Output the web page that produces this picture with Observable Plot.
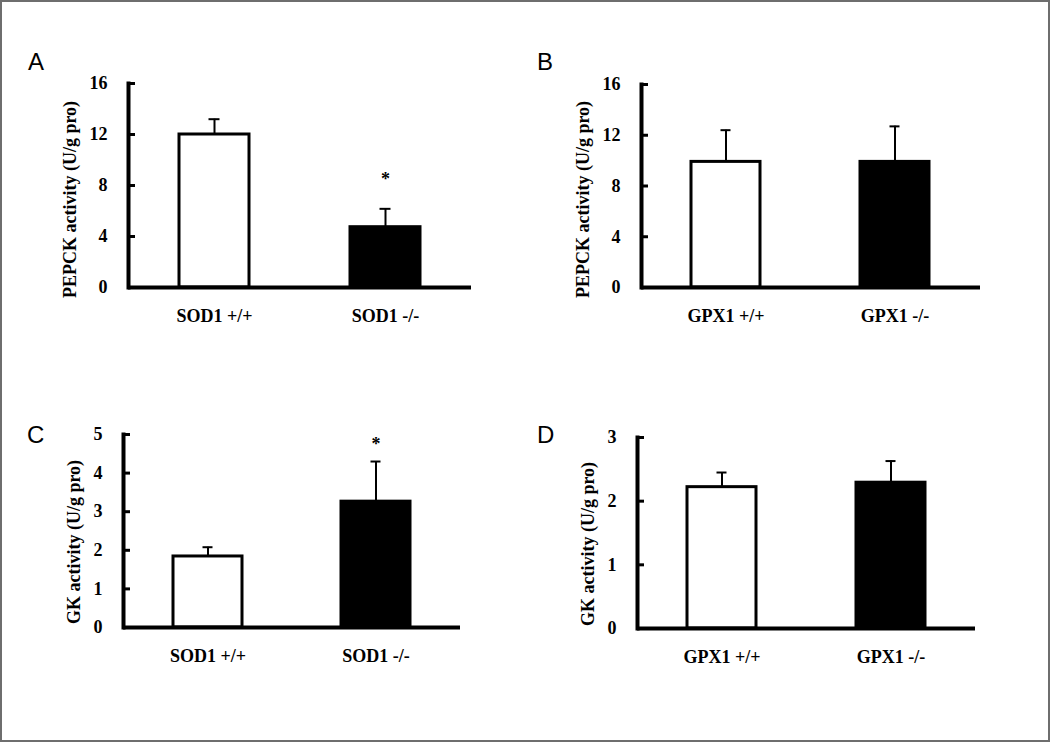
<!DOCTYPE html>
<html><head><meta charset="utf-8">
<script src="https://cdn.jsdelivr.net/npm/d3@7"></script>
<script src="https://cdn.jsdelivr.net/npm/@observablehq/plot@0.6"></script>
<style>
html,body{margin:0;padding:0;background:#fff;}
#page{position:relative;width:1050px;height:742px;overflow:hidden;background:#fff;}
#border{position:absolute;left:0;top:0;width:1046px;height:738px;border:2px solid #6e6e6e;}
.panel{position:absolute;}
.letter{position:absolute;font-family:"Liberation Sans",Arial,sans-serif;font-size:24px;line-height:24px;color:#000;}
</style></head><body><div id="page"><div id="border"></div></div>
<script>
// ---- data ----
const panelLetters = ["A", "B", "C", "D"];
const groupsSOD = ["SOD1 +/+", "SOD1 -/-"];
const groupsGPX = ["GPX1 +/+", "GPX1 -/-"];
const yLabelPEPCK = "PEPCK activity (U/g pro)";
const yLabelGK = "GK activity (U/g pro)";
const barFills = ["white", "black"];

const meanA = [12.0, 4.73];
const errA = [1.2, 1.44];
const sigA = [null, 8.5];

const meanB = [9.9, 9.9];
const errB = [2.5, 2.8];
const sigB = [null, null];

const meanC = [1.84, 3.26];
const errC = [0.24, 1.04];
const sigC = [null, 4.75];

const meanD = [2.22, 2.29];
const errD = [0.23, 0.34];
const sigD = [null, null];

const ticksPEPCK = [0, 4, 8, 12, 16];
const ticksGK_C = [0, 1, 2, 3, 4, 5];
const ticksGK_D = [0, 1, 2, 3];

// ---- layout ----
const panels = [
  {letter: panelLetters[0], groups: groupsSOD, mean: meanA, err: errA, sig: sigA, ticks: ticksPEPCK, label: yLabelPEPCK,
   left: 0, top: 40, mL: 128, mR: 9, mT: 43, mB: 53, lx: -58, ly: 14, letterX: 28, letterY: 70},
  {letter: panelLetters[1], groups: groupsGPX, mean: meanB, err: errB, sig: sigB, ticks: ticksPEPCK, label: yLabelPEPCK,
   left: 520, top: 40, mL: 121, mR: 20, mT: 44, mB: 53, lx: -58, ly: 13.5, letterX: 537, letterY: 70},
  {letter: panelLetters[2], groups: groupsSOD, mean: meanC, err: errC, sig: sigC, ticks: ticksGK_C, label: yLabelGK,
   left: 0, top: 390, mL: 123, mR: 20, mT: 44, mB: 63, lx: -49, ly: 11, letterX: 27, letterY: 443},
  {letter: panelLetters[3], groups: groupsGPX, mean: meanD, err: errD, sig: sigD, ticks: ticksGK_D, label: yLabelGK,
   left: 520, top: 390, mL: 117, mR: 25, mT: 47, mB: 62, lx: -49, ly: 11, letterX: 537, letterY: 443}
];

const page = document.getElementById("page");

for (const p of panels) {
  const rows = p.groups.map((g, i) => ({group: g, mean: p.mean[i], hi: p.mean[i] + p.err[i], fill: barFills[i], sig: p.sig[i]}));
  const sigRows = rows.filter(d => d.sig != null);
  const W = 480, H = 300;
  const chart = Plot.plot({
    width: W, height: H,
    marginLeft: p.mL, marginRight: p.mR, marginTop: p.mT, marginBottom: p.mB,
    style: {fontFamily: "'Liberation Serif','Times New Roman',serif", fontWeight: "bold", fontSize: "18px", color: "black", background: "transparent", overflow: "visible"},
    x: {domain: p.groups, paddingInner: 0.59, paddingOuter: 0.295, label: null},
    y: {domain: [0, p.ticks[p.ticks.length - 1]], label: null},
    marks: [
      Plot.ruleX(rows, {x: "group", y1: "mean", y2: "hi", stroke: "black", strokeWidth: 2}),
      Plot.tickY(rows, {x: "group", y: "hi", stroke: "black", strokeWidth: 2, insetLeft: 29.5, insetRight: 29.5}),
      Plot.barY(rows, {x: "group", y: "mean", fill: "fill", stroke: "black", strokeWidth: 3}),
      Plot.text(sigRows, {x: "group", y: "sig", text: () => "*", fontSize: 18}),
      Plot.axisY({ticks: p.ticks, tickSize: -7, tickPadding: 28, strokeWidth: 3, tickFormat: d => String(d), label: null}),
      Plot.axisX({tickSize: 0, tickPadding: 22, label: null}),
      Plot.frame({anchor: "left", strokeWidth: 4}),
      Plot.ruleY([0], {strokeWidth: 4}),
      Plot.text([p.label], {frameAnchor: "left", text: d => d, rotate: -90, dx: p.lx, dy: p.ly, fontSize: 18, textAnchor: "middle"})
    ]
  });
  const div = document.createElement("div");
  div.className = "panel";
  div.style.left = p.left + "px";
  div.style.top = p.top + "px";
  div.appendChild(chart);
  page.appendChild(div);

  const L = document.createElement("div");
  L.className = "letter";
  L.textContent = p.letter;
  L.style.left = p.letterX + "px";
  L.style.top = (p.letterY - 20) + "px";
  page.appendChild(L);
}
</script></body></html>
